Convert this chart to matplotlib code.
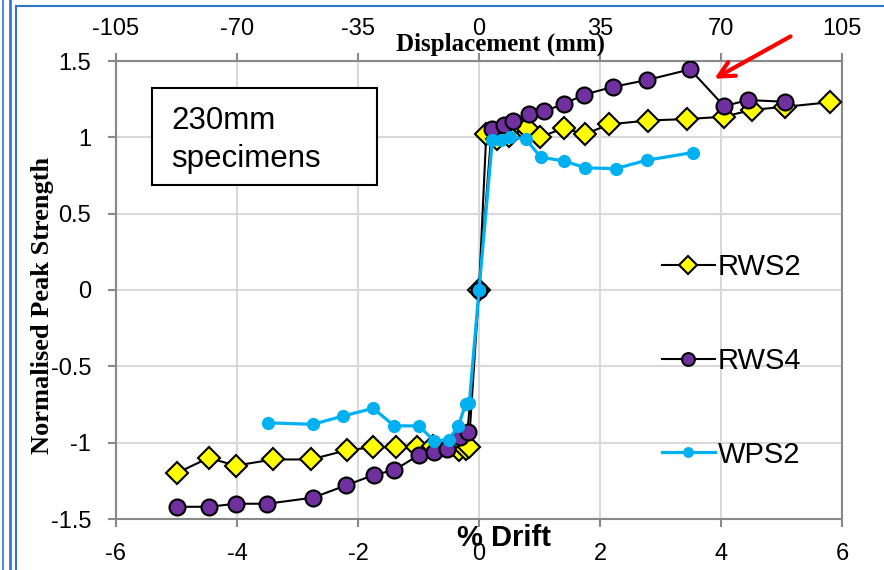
import numpy as np
import matplotlib
matplotlib.use("Agg")
import matplotlib.pyplot as plt
from matplotlib.lines import Line2D
from matplotlib.patches import Rectangle
from matplotlib.ticker import FuncFormatter

plt.rcParams['font.family'] = ['Liberation Sans', 'DejaVu Sans']
plt.rcParams['axes.unicode_minus'] = False

# % drift / normalised peak strength
rws2_x = [-5.0, -4.47, -4.02, -3.4, -2.78, -2.19, -1.75, -1.37, -1.03, -0.76, -0.33, -0.22, -0.17,
          0.0, 0.12, 0.3, 0.5, 0.79, 1.0, 1.4, 1.75, 2.15, 2.79, 3.44, 4.05, 4.51, 5.06, 5.8]
rws2_y = [-1.2, -1.1, -1.15, -1.11, -1.11, -1.05, -1.03, -1.03, -1.03, -1.02, -1.05, -1.04, -1.03,
          0.0, 1.02, 0.99, 1.01, 1.06, 1.0, 1.06, 1.02, 1.085, 1.11, 1.12, 1.135, 1.18, 1.2, 1.23]

rws4_x = [-5.0, -4.46, -4.02, -3.5, -2.74, -2.2, -1.73, -1.4, -0.99, -0.75, -0.53, -0.32, -0.19,
          0.0, 0.21, 0.41, 0.56, 0.82, 1.07, 1.41, 1.74, 2.21, 2.77, 3.49, 4.05, 4.45, 5.06]
rws4_y = [-1.42, -1.42, -1.40, -1.40, -1.36, -1.28, -1.21, -1.18, -1.08, -1.06, -1.04, -0.96, -0.93,
          0.0, 1.055, 1.08, 1.11, 1.15, 1.17, 1.22, 1.28, 1.33, 1.375, 1.445, 1.205, 1.244, 1.233]

wps2_x = [-3.49, -2.75, -2.24, -1.75, -1.4, -0.99, -0.74, -0.5, -0.34, -0.22, -0.16,
          0.0, 0.22, 0.37, 0.52, 0.77, 1.02, 1.41, 1.76, 2.26, 2.77, 3.53]
wps2_y = [-0.87, -0.88, -0.825, -0.775, -0.89, -0.89, -0.99, -0.98, -0.89, -0.745, -0.74,
          0.0, 0.98, 0.98, 1.0, 0.99, 0.87, 0.845, 0.80, 0.795, 0.85, 0.90]

xticks = [-6, -4, -2, 0, 2, 4, 6]
yticks = [-1.5, -1, -0.5, 0, 0.5, 1, 1.5]
top_ticks = [-105, -70, -35, 0, 35, 70, 105]
mm_per_drift = 17.5

W, H = 884, 570
fig = plt.figure(figsize=(W / 100, H / 100), dpi=100)
ax = fig.add_axes([116 / W, (H - 519) / H, 726 / W, 458 / H])

ax.plot(rws2_x, rws2_y, color='black', lw=1.5, marker='D', ms=11, mfc='#FFFF00',
        mec='black', mew=1.5, label='RWS2', zorder=3)
ax.plot(rws4_x, rws4_y, color='black', lw=1.5, marker='o', ms=11.5, mfc='#7030A0',
        mec='black', mew=1.5, label='RWS4', zorder=4)
ax.plot(wps2_x, wps2_y, color='#00B0F0', lw=2.3, marker='o', ms=8.5, mfc='#00B0F0',
        mec='#00B0F0', label='WPS2', zorder=5)

ax.set_xlim(-6, 6)
ax.set_ylim(-1.5, 1.5)
ax.set_xticks(xticks)
ax.set_yticks(yticks)
ax.yaxis.set_major_formatter(FuncFormatter(lambda v, p: '%g' % v))
ax.grid(True, color='#D9D9D9', lw=1.5)
ax.set_axisbelow(True)
for s in ax.spines.values():
    s.set_color('#898989')
    s.set_linewidth(1.5)
ax.tick_params(labelsize=17, length=6, width=1.5, color='#898989')
ax.tick_params(axis='y', pad=12)
ax.tick_params(axis='x', pad=11)

top = ax.secondary_xaxis('top', functions=(lambda d: d * mm_per_drift, lambda m: m / mm_per_drift))
top.set_xticks(top_ticks)
top.tick_params(labelsize=17, length=6, width=1.5, color='#898989', pad=9)
top.spines['top'].set_color('#898989')

ax.legend(loc='center left', bbox_to_anchor=(0.752, 0.345), frameon=False, fontsize=21,
          borderpad=0, borderaxespad=0, handlelength=1.82, handletextpad=0.1,
          labelspacing=2.25, markerscale=0.8)

ax.annotate('', xy=(3.85, 1.375), xytext=(5.19, 1.67),
            arrowprops=dict(arrowstyle='->', color='red', lw=3, mutation_scale=28),
            annotation_clip=False)

# axis titles, placed like the original
fig.text(500 / W, 1 - 44 / H, 'Displacement (mm)', ha='center', va='center',
         fontsize=18, fontweight='bold', family='Liberation Serif')
fig.text(43 / W, 1 - 305 / H, 'Normalised Peak Strength', ha='center', va='center',
         rotation=90, fontsize=19, fontweight='bold', family='Liberation Serif')
fig.text(504 / W, 1 - 538 / H, '% Drift', ha='center', va='center',
         fontsize=21, fontweight='bold')

# note box
fig.add_artist(Rectangle((152 / W, 1 - 185 / H), 225 / W, 97 / H, transform=fig.transFigure,
                         facecolor='white', edgecolor='black', lw=1.5, zorder=6))
fig.text(171 / W, 1 - 129 / H, '230mm', fontsize=22.5, va='baseline', zorder=7)
fig.text(171 / W, 1 - 167 / H, 'specimens', fontsize=22.5, va='baseline', zorder=7)

# blue frame lines around the picture
blue = '#2E75C6'
for xp in [2.5, 9.5, 11]:
    fig.add_artist(Line2D([xp / W, xp / W], [0, 1], transform=fig.transFigure, color=blue, lw=1.2))
fig.add_artist(Line2D([16 / W, 16 / W], [0, 1 - 6 / H], transform=fig.transFigure, color=blue, lw=1.5))
fig.add_artist(Line2D([16 / W, 1], [1 - 6 / H, 1 - 6 / H], transform=fig.transFigure, color=blue, lw=1.5))

fig.savefig('out.png', dpi=100)
